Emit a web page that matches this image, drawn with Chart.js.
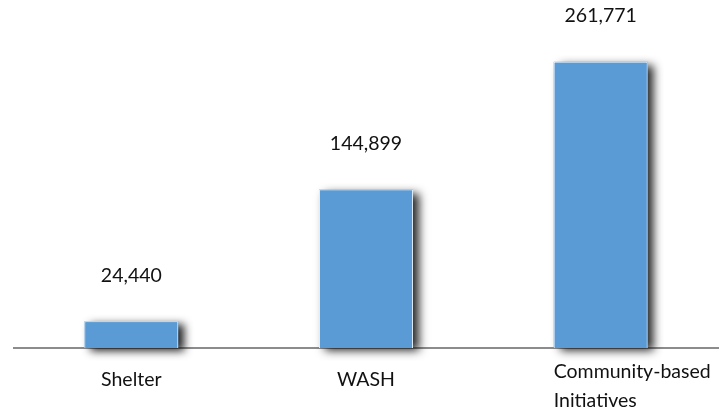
<!DOCTYPE html>
<html>
<head>
<meta charset="utf-8">
<script src="https://cdn.jsdelivr.net/npm/chart.js@4"></script>
<style>
  body { margin: 0; background: #fff; }
  #wrap { width: 720px; height: 412px; }
</style>
</head>
<body>
<div id="wrap"><canvas id="bars" width="720" height="412"></canvas></div>
<script>
var categories = ['Shelter', 'WASH', ['Community-based', 'Initiatives']];
var values = [24440, 144899, 261771];
var yMax = 300000;

var labelFont = '19.5px Lato, "Open Sans", sans-serif';

// value labels floating above each bar
var valueLabels = {
    id: 'valueLabels',
    afterDatasetsDraw: function(chart) {
        var ctx = chart.ctx;
        var meta = chart.getDatasetMeta(0);
        ctx.save();
        ctx.font = labelFont;
        ctx.fillStyle = '#111';
        ctx.textAlign = 'center';
        ctx.textBaseline = 'middle';
        meta.data.forEach(function(bar, i) {
            ctx.fillText(values[i].toLocaleString('en-US'), bar.x, bar.y - 46);
        });
        ctx.restore();
    }
};

// category labels under the axis; wrapped ones start at the bar's left edge
var categoryLabels = {
    id: 'categoryLabels',
    afterDraw: function(chart) {
        var ctx = chart.ctx;
        var meta = chart.getDatasetMeta(0);
        var base = chart.chartArea.bottom;
        ctx.save();
        ctx.font = labelFont;
        ctx.fillStyle = '#111';
        ctx.textBaseline = 'middle';
        ctx.textAlign = 'left';
        categories.forEach(function(cat, i) {
            var lines = Array.isArray(cat) ? cat : [cat];
            var bar = meta.data[i];
            var w = Math.max.apply(null, lines.map(function(l) { return ctx.measureText(l).width; }));
            var left = lines.length > 1 ? bar.x - bar.width / 2 : bar.x - w / 2;
            var y0 = base + 32 - (lines.length - 1) * 8;
            lines.forEach(function(l, j) {
                ctx.fillText(l, left, y0 + j * 29);
            });
        });
        ctx.restore();
    }
};

// soft drop shadow behind bars, painted under the real bars
var barShadow = {
    id: 'barShadow',
    beforeDatasetsDraw: function(chart) {
        var ctx = chart.ctx;
        var meta = chart.getDatasetMeta(0);
        ctx.save();
        ctx.shadowColor = 'rgba(0,0,0,0.85)';
        ctx.shadowBlur = 9;
        ctx.shadowOffsetX = 6;
        ctx.shadowOffsetY = 3;
        ctx.fillStyle = '#5B9BD5';
        meta.data.forEach(function(bar) {
            ctx.fillRect(bar.x - bar.width / 2, bar.y, bar.width, bar.base - bar.y);
        });
        ctx.restore();
    }
};

var ctx = document.getElementById('bars').getContext('2d');
var myChart = new Chart(ctx, {
    type: 'bar',
    data: {
        labels: categories,
        datasets: [{
            data: values,
            backgroundColor: '#5B9BD5',
            borderColor: '#f4f8fc',
            borderWidth: 1,
            barPercentage: 0.4,
            categoryPercentage: 1.0
        }]
    },
    options: {
        responsive: false,
        animation: false,
        layout: {
            padding: { left: 14, right: 2, top: 20, bottom: 56 }
        },
        plugins: {
            legend: { display: false },
            tooltip: { enabled: false }
        },
        scales: {
            x: {
                grid: { display: false },
                ticks: { display: false },
                border: { display: true, color: '#8c8c8c', width: 2 }
            },
            y: {
                display: false,
                min: 0,
                max: yMax
            }
        }
    },
    plugins: [barShadow, valueLabels, categoryLabels]
});
</script>
</body>
</html>
